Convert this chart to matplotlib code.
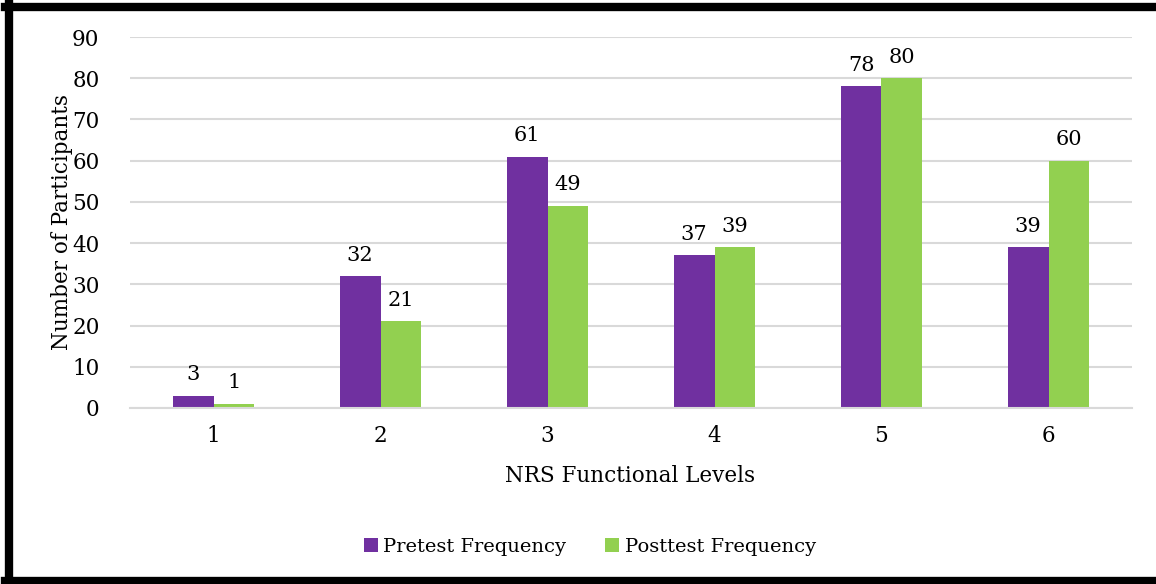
import numpy as np
import matplotlib
matplotlib.use('Agg')
import matplotlib.pyplot as plt
from matplotlib.lines import Line2D

levels = ['1', '2', '3', '4', '5', '6']
pretest = [3, 32, 61, 37, 78, 39]
posttest = [1, 21, 49, 39, 80, 60]

purple = '#7030A0'
green = '#92D050'

plt.rcParams['font.family'] = ['DejaVu Serif']

fig = plt.figure(figsize=(11.56, 5.84), dpi=100)
ax = fig.add_axes([130 / 1156, 1 - 408 / 584, 1002 / 1156, (408 - 37) / 584])

x = np.arange(len(levels))
w = 0.245
b1 = ax.bar(x - w / 2, pretest, w, color=purple, label='Pretest Frequency')
b2 = ax.bar(x + w / 2, posttest, w, color=green, label='Posttest Frequency')

# value labels above each bar
for bars in (b1, b2):
    for r in bars:
        ax.text(r.get_x() + r.get_width() / 2, r.get_height() + 2.8, str(int(r.get_height())),
                ha='center', va='bottom', fontsize=15)

ax.set_xlim(-0.5, len(levels) - 0.5)
ax.set_ylim(0, 90)
ax.set_yticks(range(0, 91, 10))
ax.set_xticks(x)
ax.set_xticklabels(levels)
ax.tick_params(axis='both', length=0, labelsize=15.5)
ax.tick_params(axis='y', pad=22)
ax.tick_params(axis='x', pad=12)
ax.grid(axis='y', color='#d9d9d9', linewidth=1.5)
ax.set_axisbelow(True)
for s in ['top', 'right', 'left']:
    ax.spines[s].set_visible(False)
ax.spines['bottom'].set_color('#d9d9d9')
ax.spines['bottom'].set_linewidth(1.5)

fig.text(630 / 1156, 1 - 476 / 584, 'NRS Functional Levels', ha='center', va='center', fontsize=15.5)
fig.text(62 / 1156, 1 - 222 / 584, 'Number of Participants', ha='center', va='center',
         rotation=90, fontsize=15.5)

fig.legend(handles=[b1, b2], loc='center', bbox_to_anchor=(590 / 1156, 1 - 547 / 584), ncol=2,
           frameon=False, fontsize=14, handlelength=0.7, handleheight=0.7,
           handletextpad=0.3, columnspacing=2.0)

# frame lines along top, left and bottom edges
fig.add_artist(Line2D([0.004, 1.0], [1 - 7 / 584, 1 - 7 / 584], color='black', linewidth=6))
fig.add_artist(Line2D([9 / 1156, 9 / 1156], [1 - 3 / 584, 0], color='black', linewidth=6))
fig.add_artist(Line2D([0.004, 1.0], [3 / 584, 3 / 584], color='black', linewidth=6))

fig.savefig('out.png', dpi=100)
